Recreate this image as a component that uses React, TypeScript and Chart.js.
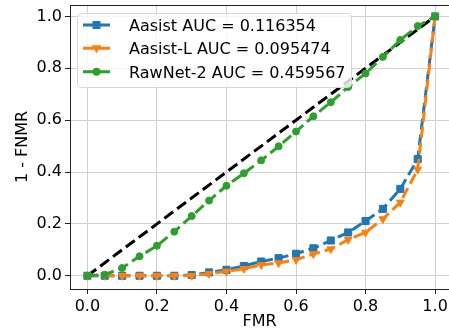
import React, { useEffect, useRef } from 'react';
import { Chart, registerables } from 'chart.js';

Chart.register(...registerables);

const fmr = [0, 0.05, 0.1, 0.15, 0.2, 0.25, 0.3, 0.35, 0.4, 0.45, 0.5, 0.55, 0.6, 0.65, 0.7, 0.75, 0.8, 0.85, 0.9, 0.95, 1.0];
const aasist = [0, 0, 0, 0, 0, 0, 0.003, 0.013, 0.023, 0.038, 0.055, 0.068, 0.085, 0.106, 0.136, 0.167, 0.211, 0.258, 0.335, 0.45, 1.0];
const aasistL = [0, 0, 0, 0, 0, 0, 0, 0.008, 0.017, 0.027, 0.042, 0.049, 0.062, 0.084, 0.103, 0.139, 0.167, 0.219, 0.283, 0.41, 1.0];
const rawnet = [0, 0.004, 0.03, 0.075, 0.116, 0.17, 0.23, 0.29, 0.347, 0.395, 0.445, 0.499, 0.556, 0.615, 0.669, 0.728, 0.78, 0.844, 0.909, 0.963, 1.0];
const chanceX = [0, 1];
const chanceY = [0, 1];
const xTicks = [0, 0.2, 0.4, 0.6, 0.8, 1.0];
const yTicks = [0, 0.2, 0.4, 0.6, 0.8, 1.0];
const seriesLabels = ['Aasist AUC = 0.116354', 'Aasist-L AUC = 0.095474', 'RawNet-2 AUC = 0.459567'];
const seriesColors = ['#1f77b4', '#ff7f0e', '#2ca02c'];
const seriesMarkers = ['square', 'tri', 'circle'];

const FONT = "'DejaVu Sans', sans-serif";
const DASH = [11, 5];

function drawMarker(ctx: CanvasRenderingContext2D, kind: string, x: number, y: number, color: string) {
  ctx.save();
  ctx.setLineDash([]);
  ctx.fillStyle = color;
  ctx.beginPath();
  if (kind === 'square') {
    ctx.rect(x - 4, y - 4, 8, 8);
  } else if (kind === 'tri') {
    ctx.moveTo(x - 5, y - 3);
    ctx.lineTo(x + 5, y - 3);
    ctx.lineTo(x, y + 5);
    ctx.closePath();
  } else {
    ctx.arc(x, y, 4, 0, Math.PI * 2);
  }
  ctx.fill();
  ctx.restore();
}

const framePlugin = {
  id: 'frameAndLegend',
  afterDraw(chart: any) {
    const ctx = chart.ctx as CanvasRenderingContext2D;
    const { left, right, top } = chart.chartArea;
    ctx.save();
    ctx.strokeStyle = '#222';
    ctx.lineWidth = 1;
    ctx.beginPath();
    ctx.moveTo(left, top + 0.5);
    ctx.lineTo(right, top + 0.5);
    ctx.stroke();

    // legend box
    const bx = 77.5, by = 13.5, bw = 274, bh = 74, r = 4;
    ctx.beginPath();
    ctx.moveTo(bx + r, by);
    ctx.lineTo(bx + bw - r, by);
    ctx.quadraticCurveTo(bx + bw, by, bx + bw, by + r);
    ctx.lineTo(bx + bw, by + bh - r);
    ctx.quadraticCurveTo(bx + bw, by + bh, bx + bw - r, by + bh);
    ctx.lineTo(bx + r, by + bh);
    ctx.quadraticCurveTo(bx, by + bh, bx, by + bh - r);
    ctx.lineTo(bx, by + r);
    ctx.quadraticCurveTo(bx, by, bx + r, by);
    ctx.closePath();
    ctx.fillStyle = 'rgba(255,255,255,0.8)';
    ctx.fill();
    ctx.strokeStyle = '#d6d6d6';
    ctx.lineWidth = 1;
    ctx.stroke();

    const rowY = [25, 48.3, 71.7];
    for (let i = 0; i < seriesLabels.length; i++) {
      const y = rowY[i];
      ctx.strokeStyle = seriesColors[i];
      ctx.lineWidth = 3;
      ctx.setLineDash(DASH);
      ctx.beginPath();
      ctx.moveTo(83, y);
      ctx.lineTo(110, y);
      ctx.stroke();
      ctx.setLineDash([]);
      drawMarker(ctx, seriesMarkers[i], 96.5, y, seriesColors[i]);
      ctx.fillStyle = '#000';
      ctx.font = `16px ${FONT}`;
      ctx.textBaseline = 'alphabetic';
      ctx.textAlign = 'left';
      ctx.fillText(seriesLabels[i], 129, y + 5.8);
    }
    ctx.restore();
  },
};

function toPts(xs: number[], ys: number[]) {
  return xs.map((x, i) => ({ x, y: ys[i] }));
}

export default function App() {
  const ref = useRef<HTMLCanvasElement | null>(null);
  useEffect(() => {
    if (!ref.current) return;
    Chart.defaults.font.family = FONT;
    Chart.defaults.font.size = 16;
    Chart.defaults.color = '#000';
    const common = {
      borderWidth: 3,
      borderDash: DASH,
      tension: 0,
      fill: false,
      pointBorderWidth: 1,
    };
    const chart = new Chart(ref.current, {
      type: 'line',
      data: {
        datasets: [
          {
            ...common,
            label: seriesLabels[2],
            data: toPts(fmr, rawnet),
            borderColor: seriesColors[2],
            backgroundColor: seriesColors[2],
            pointBackgroundColor: seriesColors[2],
            pointBorderColor: seriesColors[2],
            pointStyle: 'circle',
            pointRadius: 3.5,
            order: 0,
          },
          {
            ...common,
            label: seriesLabels[1],
            data: toPts(fmr, aasistL),
            borderColor: seriesColors[1],
            backgroundColor: seriesColors[1],
            pointBackgroundColor: seriesColors[1],
            pointBorderColor: seriesColors[1],
            pointStyle: 'triangle',
            pointRotation: 180,
            pointRadius: 4.5,
            order: 1,
          },
          {
            ...common,
            label: seriesLabels[0],
            data: toPts(fmr, aasist),
            borderColor: seriesColors[0],
            backgroundColor: seriesColors[0],
            pointBackgroundColor: seriesColors[0],
            pointBorderColor: seriesColors[0],
            pointStyle: 'rect',
            pointRadius: 5,
            order: 2,
          },
          {
            ...common,
            label: 'chance',
            data: toPts(chanceX, chanceY),
            borderColor: '#000',
            backgroundColor: '#000',
            pointRadius: 0,
            order: 3,
          },
        ],
      },
      options: {
        animation: false,
        responsive: false,
        layout: { autoPadding: false, padding: { top: 5, left: 0, right: 0, bottom: 0 } },
        plugins: {
          legend: { display: false },
          tooltip: { enabled: false },
        },
        scales: {
          x: {
            type: 'linear',
            min: -0.05,
            max: 1.04,
            afterBuildTicks: (s: any) => {
              s.ticks = xTicks.map((v) => ({ value: v }));
            },
            afterFit: (s: any) => {
              s.height = 44;
              s.paddingLeft = 0;
              s.paddingRight = 0;
            },
            ticks: {
              callback: (v: any) => Number(v).toFixed(1),
              padding: 3,
              color: '#000',
              font: { size: 16 },
              maxRotation: 0,
              autoSkip: false,
            },
            grid: {
              color: '#d0d0d0',
              lineWidth: 1,
              tickLength: 5,
              tickColor: '#222',
            },
            border: { color: '#222', width: 1 },
            title: {
              display: true,
              text: 'FMR',
              font: { size: 16 },
              color: '#000',
              padding: { top: 0, bottom: 2 },
            },
          },
          y: {
            type: 'linear',
            min: -0.051,
            max: 1.044,
            afterBuildTicks: (s: any) => {
              s.ticks = yTicks.map((v) => ({ value: v }));
            },
            afterFit: (s: any) => {
              s.width = 70;
              s.paddingTop = 0;
              s.paddingBottom = 0;
            },
            ticks: {
              callback: (v: any) => Number(v).toFixed(1),
              padding: 3,
              color: '#000',
              font: { size: 16 },
              autoSkip: false,
            },
            grid: {
              color: '#d0d0d0',
              lineWidth: 1,
              tickLength: 5,
              tickColor: '#222',
            },
            border: { color: '#222', width: 1 },
            title: {
              display: true,
              text: '1 - FNMR',
              font: { size: 16 },
              color: '#000',
              padding: { top: 13, bottom: 0 },
            },
          },
        },
      },
      plugins: [framePlugin],
    } as any);
    return () => chart.destroy();
  }, []);
  return (
    <div style={{ position: 'fixed', left: 0, top: 0, width: 449, height: 333, background: '#fff' }}>
      <canvas ref={ref} width={449} height={333} />
    </div>
  );
}
